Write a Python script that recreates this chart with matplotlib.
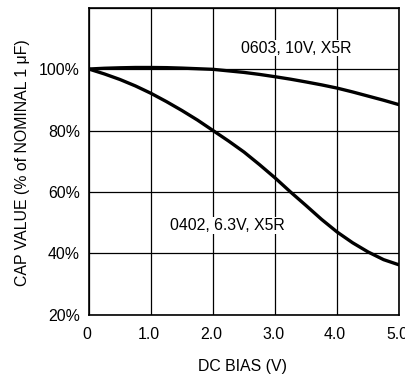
import matplotlib
matplotlib.use('Agg')
import matplotlib.pyplot as plt
import matplotlib.transforms as mtransforms

plt.rcParams['font.family'] = ['Liberation Sans', 'DejaVu Sans']
plt.rcParams['font.size'] = 11.4

# DC bias (V)
bias = [0.0, 0.25, 0.5, 0.75, 1.0, 1.25, 1.5, 1.75, 2.0, 2.25, 2.5,
        2.75, 3.0, 3.25, 3.5, 3.75, 4.0, 4.25, 4.5, 4.75, 5.0]
# capacitance as % of nominal
cap_0603 = [100.0, 100.25, 100.4, 100.5, 100.5, 100.45, 100.3, 100.1, 99.9, 99.4, 98.9,
            98.25, 97.5, 96.7, 95.8, 94.85, 93.8, 92.55, 91.2, 89.85, 88.4]
cap_0402 = [100.0, 98.4, 96.6, 94.5, 92.1, 89.4, 86.5, 83.4, 80.0, 76.6, 73.0,
            68.9, 64.6, 60.0, 55.6, 51.1, 47.0, 43.5, 40.5, 38.0, 36.3]

labels = ['0603, 10V, X5R', '0402, 6.3V, X5R']
label_pos = [(3.34, 106.8), (2.23, 49.1)]

x_ticks = [0, 1, 2, 3, 4, 5]
x_ticklabels = ['0', '1.0', '2.0', '3.0', '4.0', '5.0']
y_ticks = [20, 40, 60, 80, 100, 120]
y_ticklabels = ['20%', '40%', '60%', '80%', '100%', '']

fig = plt.figure(figsize=(4.06, 3.77), dpi=100)
ax = fig.add_axes([0.219, 0.1645, 0.764, 0.8155])

ax.plot(bias, cap_0603, color='black', linewidth=2.4, solid_joinstyle='round')
ax.plot(bias, cap_0402, color='black', linewidth=2.4, solid_joinstyle='round')

for text, (x, y) in zip(labels, label_pos):
    ax.text(x, y, text, ha='center', va='center',
            bbox=dict(facecolor='white', edgecolor='none', pad=0.5))

ax.set_xlim(0, 5)
ax.set_ylim(20, 120)
ax.set_xticks(x_ticks)
ax.set_xticklabels(x_ticklabels)
ax.set_yticks(y_ticks)
ax.set_yticklabels(y_ticklabels)
ax.tick_params(axis='y', length=0, pad=6.5)
ax.tick_params(axis='x', length=0, pad=8.5)
ax.grid(True, color='black', linewidth=0.9)
ax.set_axisbelow(True)
for s in ax.spines.values():
    s.set_linewidth(1.2)

# nudge x tick labels slightly left like the original
offset = mtransforms.ScaledTranslation(-2 / 100, 0, fig.dpi_scale_trans)
for lbl in ax.get_xticklabels():
    lbl.set_transform(lbl.get_transform() + offset)

fig.text(243 / 406, 1 - 367 / 377, 'DC BIAS (V)', ha='center', va='center')
fig.text(23 / 406, 1 - 163 / 377, 'CAP VALUE (% of NOMINAL 1 μF)',
         ha='center', va='center', rotation=90)

fig.savefig('out.png', dpi=100)
